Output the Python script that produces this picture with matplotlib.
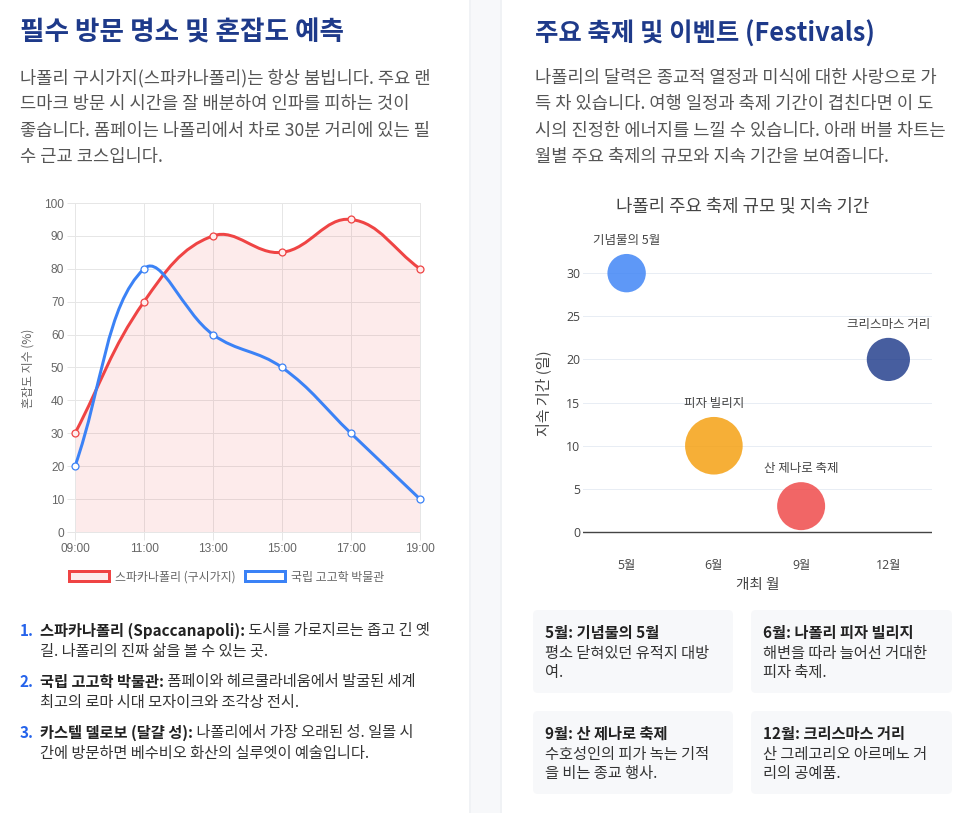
import matplotlib
matplotlib.use("Agg")
import matplotlib.pyplot as plt
import numpy as np
from matplotlib.path import Path
from matplotlib.patches import PathPatch, Rectangle, FancyBboxPatch, Patch

plt.rcParams["font.family"] = ["Noto Sans CJK KR", "DejaVu Sans"]

W, H = 975, 813
PT = 0.72  # points per pixel at dpi 100

# ── data: crowd index by hour ──────────────────────────────
hours = ["09:00", "11:00", "13:00", "15:00", "17:00", "19:00"]
spacca_crowd = [30, 70, 90, 85, 95, 80]
museum_crowd = [20, 80, 60, 50, 30, 10]
series_names = ["스파카나폴리 (구시가지)", "국립 고고학 박물관"]
crowd_ticks = list(range(0, 101, 10))

# ── data: festivals ────────────────────────────────────────
fest_months = ["5월", "6월", "9월", "12월"]
fest_names = ["기념물의 5월", "피자 빌리지", "산 제나로 축제", "크리스마스 거리"]
fest_days = [30, 10, 3, 20]
fest_scale = [40, 60, 50, 45]
fest_colors = ["#3b82f6", "#f59e0b", "#ef4444", "#1e3a8a"]
day_ticks = [0, 5, 10, 15, 20, 25, 30]

# ── page text ──────────────────────────────────────────────
left_heading = "필수 방문 명소 및 혼잡도 예측"
left_para = [
    "나폴리 구시가지(스파카나폴리)는 항상 붐빕니다. 주요 랜",
    "드마크 방문 시 시간을 잘 배분하여 인파를 피하는 것이",
    "좋습니다. 폼페이는 나폴리에서 차로 30분 거리에 있는 필",
    "수 근교 코스입니다.",
]
spots = [
    ("스파카나폴리 (Spaccanapoli):", " 도시를 가로지르는 좁고 긴 옛",
     "길. 나폴리의 진짜 삶을 볼 수 있는 곳."),
    ("국립 고고학 박물관:", " 폼페이와 헤르쿨라네움에서 발굴된 세계",
     "최고의 로마 시대 모자이크와 조각상 전시."),
    ("카스텔 델로보 (달걀 성):", " 나폴리에서 가장 오래된 성. 일몰 시",
     "간에 방문하면 베수비오 화산의 실루엣이 예술입니다."),
]
right_heading = "주요 축제 및 이벤트 (Festivals)"
right_para = [
    "나폴리의 달력은 종교적 열정과 미식에 대한 사랑으로 가",
    "득 차 있습니다. 여행 일정과 축제 기간이 겹친다면 이 도",
    "시의 진정한 에너지를 느낄 수 있습니다. 아래 버블 차트는",
    "월별 주요 축제의 규모와 지속 기간을 보여줍니다.",
]
cards = [
    ("5월: 기념물의 5월", "평소 닫혀있던 유적지 대방", "여."),
    ("6월: 나폴리 피자 빌리지", "해변을 따라 늘어선 거대한", "피자 축제."),
    ("9월: 산 제나로 축제", "수호성인의 피가 녹는 기적", "을 비는 종교 행사."),
    ("12월: 크리스마스 거리", "산 그레고리오 아르메노 거", "리의 공예품."),
]

NAVY = "#1e3a8a"
RED = "#ef4444"
BLUE = "#3b82f6"


def chartjs_curve(xs, ys, sx, sy, ylo, yhi, tension=0.4):
    """Chart.js style cubic bezier through the points (distances in pixels)."""
    px = np.asarray(xs, float) * sx
    py = np.asarray(ys, float) * sy
    n = len(px)
    ctrl = []
    for i in range(n):
        a, b = max(i - 1, 0), min(i + 1, n - 1)
        d01 = np.hypot(px[i] - px[a], py[i] - py[a])
        d12 = np.hypot(px[b] - px[i], py[b] - py[i])
        tot = d01 + d12
        fa = tension * (d01 / tot if tot else 0)
        fb = tension * (d12 / tot if tot else 0)
        dx, dy = px[b] - px[a], py[b] - py[a]
        prev = [px[i] - fa * dx, np.clip(py[i] - fa * dy, ylo * sy, yhi * sy)]
        nxt = [px[i] + fb * dx, np.clip(py[i] + fb * dy, ylo * sy, yhi * sy)]
        ctrl.append((prev, nxt))
    verts = [(xs[0], ys[0])]
    codes = [Path.MOVETO]
    for i in range(n - 1):
        c1 = ctrl[i][1]
        c2 = ctrl[i + 1][0]
        verts += [(c1[0] / sx, c1[1] / sy), (c2[0] / sx, c2[1] / sy),
                  (xs[i + 1], ys[i + 1])]
        codes += [Path.CURVE4] * 3
    return verts, codes


fig = plt.figure(figsize=(W / 100, H / 100), dpi=100, facecolor="white")

# page background / cards in pixel coordinates
bg = fig.add_axes([0, 0, 1, 1])
bg.set_xlim(0, W)
bg.set_ylim(H, 0)
bg.axis("off")
bg.add_patch(Rectangle((469, 0), 33, H, facecolor="#f7f8fa", edgecolor="none"))
bg.add_patch(Rectangle((469, 0), 2, H, facecolor="#f0f2f5", edgecolor="none"))
bg.add_patch(Rectangle((500, 0), 2, H, facecolor="#f0f2f5", edgecolor="none"))

bg.text(20, 33, left_heading, fontsize=19.2, fontweight="bold", color=NAVY,
        va="center", ha="left")
for k, line in enumerate(left_para):
    bg.text(20, 78 + k * 26.4, line, fontsize=12.7, color="#555", va="center")

for k, (term, rest, line2) in enumerate(spots):
    y0 = 631 + k * 51
    bg.text(20, y0, f"{k + 1}.", fontsize=11, color="#2563eb",
            fontweight="bold", va="center")
    t = bg.text(40, y0, term, fontsize=11, color="#222", fontweight="bold",
                va="center")
    bg.annotate(rest, xy=(1, 0), xycoords=t, va="bottom", ha="left",
                fontsize=11, color="#333")
    bg.text(40, y0 + 20, line2, fontsize=11, color="#333", va="center")

bg.text(535, 34, right_heading, fontsize=18.3, fontweight="bold", color=NAVY,
        va="center", ha="left")
for k, line in enumerate(right_para):
    bg.text(535, 78 + k * 26.4, line, fontsize=12.7, color="#555", va="center")

card_boxes = [(533, 610, 200), (751, 610, 201), (533, 711, 200), (751, 711, 201)]
for (cx, cy, cw), (title, l1, l2) in zip(card_boxes, cards):
    bg.add_patch(FancyBboxPatch((cx, cy), cw, 83,
                                boxstyle="round,pad=0,rounding_size=5",
                                facecolor="#f7f8fa", edgecolor="none"))
    bg.text(cx + 12, cy + 23, title, fontsize=11, fontweight="bold",
            color="#222", va="center")
    bg.text(cx + 12, cy + 43, l1, fontsize=11, color="#333", va="center")
    bg.text(cx + 12, cy + 62, l2, fontsize=11, color="#333", va="center")

# ── left: crowd line chart ────────────────────────────────
ax1 = fig.add_axes([75 / W, 1 - 532 / H, 345 / W, 329 / H])
ax1.patch.set_alpha(0)
x_idx = np.arange(len(hours))
ax1.set_xlim(x_idx[0], x_idx[-1])
ax1.set_ylim(crowd_ticks[0], crowd_ticks[-1])
sx = 345 / (x_idx[-1] - x_idx[0])
sy = 329 / (crowd_ticks[-1] - crowd_ticks[0])

v_red, c_red = chartjs_curve(x_idx, spacca_crowd, sx, sy, 0, 100)
fill_verts = v_red + [(x_idx[-1], 0), (x_idx[0], 0), (x_idx[0], spacca_crowd[0])]
fill_codes = c_red + [Path.LINETO, Path.LINETO, Path.CLOSEPOLY]
ax1.add_patch(PathPatch(Path(fill_verts, fill_codes), facecolor=RED,
                        alpha=0.1, edgecolor="none", zorder=2))
ax1.add_patch(PathPatch(Path(v_red, c_red), facecolor="none", edgecolor=RED,
                        lw=3 * PT, zorder=3, capstyle="round"))
v_blue, c_blue = chartjs_curve(x_idx, museum_crowd, sx, sy, 0, 100)
ax1.add_patch(PathPatch(Path(v_blue, c_blue), facecolor="none", edgecolor=BLUE,
                        lw=3 * PT, zorder=4, capstyle="round"))

ax1.plot(x_idx, spacca_crowd, ls="none", marker="o", ms=5.0,
         mfc=(1, 0.93, 0.93, 1), mec=RED, mew=0.9, zorder=5, clip_on=False)
ax1.plot(x_idx, museum_crowd, ls="none", marker="o", ms=5.0,
         mfc="white", mec=BLUE, mew=0.9, zorder=5, clip_on=False)

grid_c = "#e6e6e6"
ax1.set_xticks(x_idx)
ax1.set_xticklabels(hours)
ax1.set_yticks(crowd_ticks)
ax1.grid(True, color=grid_c, lw=1 * PT, zorder=0)
ax1.set_axisbelow(True)
for s in ax1.spines.values():
    s.set_color(grid_c)
    s.set_linewidth(1 * PT)
ax1.tick_params(length=8 * PT, width=1 * PT, color=grid_c, pad=2,
                labelsize=8.6, labelcolor="#666")
for lab in ax1.get_xticklabels() + ax1.get_yticklabels():
    lab.set_family(["Liberation Sans", "Noto Sans CJK KR"])
bg.text(28, 368, "혼잡도 지수 (%)", rotation=90, fontsize=8.6, color="#666",
        ha="center", va="center")

handles = [
    Patch(facecolor=(0.99, 0.93, 0.93), edgecolor=RED, lw=3 * PT),
    Patch(facecolor="white", edgecolor=BLUE, lw=3 * PT),
]
leg = ax1.legend(handles, series_names, ncol=2, frameon=False,
                 loc="center", bbox_to_anchor=(227 / W, 1 - 577 / H),
                 bbox_transform=fig.transFigure, fontsize=8.6,
                 handlelength=3.3, handleheight=0.9, handletextpad=0.55,
                 columnspacing=0.8, borderpad=0)
for txt in leg.get_texts():
    txt.set_color("#666")

# ── right: festival bubble chart ──────────────────────────
ax2 = fig.add_axes([583 / W, 1 - 548 / H, 349 / W, 318 / H])
ax2.patch.set_alpha(0)
f_idx = np.arange(len(fest_months))
ax2.set_xlim(f_idx[0] - 0.5, f_idx[-1] + 0.5)
ax2.set_ylim(-1.85, 35)
diam_px = np.asarray(fest_scale) * 0.96
ax2.scatter(f_idx, fest_days, s=(diam_px * PT) ** 2, c=fest_colors,
            alpha=0.82, linewidths=0, zorder=3, clip_on=False)
for i, (name, d) in enumerate(zip(fest_names, fest_days)):
    ax2.annotate(name, (f_idx[i], d), xytext=(0, (diam_px[i] / 2 + 7) * PT),
                 textcoords="offset points", ha="center", va="bottom",
                 fontsize=9.0, color="#444")

ax2.set_xticks(f_idx)
ax2.set_xticklabels(fest_months)
ax2.set_yticks(day_ticks)
ax2.grid(True, axis="y", color="#e8edf4", lw=1 * PT, zorder=0)
ax2.set_axisbelow(True)
ax2.axhline(0, color="#444", lw=1.4 * PT, zorder=2)
for s in ax2.spines.values():
    s.set_visible(False)
ax2.tick_params(axis="both", length=0, labelsize=8.8, labelcolor="#444")
ax2.tick_params(axis="x", pad=8)
ax2.tick_params(axis="y", pad=2)
for lab in ax2.get_xticklabels() + ax2.get_yticklabels():
    lab.set_family(["Open Sans", "Noto Sans CJK KR"])

bg.text(743, 206, "나폴리 주요 축제 규모 및 지속 기간", fontsize=12.8,
        color="#444", ha="center", va="center")
bg.text(543, 393, "지속 기간 (일)", rotation=90, fontsize=10.8, color="#444",
        ha="center", va="center")
bg.text(758, 585, "개최 월", fontsize=10.5, color="#444", ha="center",
        va="center")

fig.savefig("out.png", dpi=100, facecolor="white")
